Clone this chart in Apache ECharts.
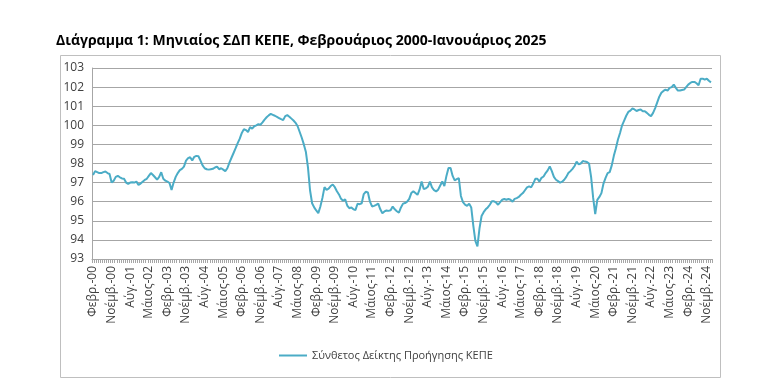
<!DOCTYPE html>
<html>
<head>
<meta charset="utf-8">
<script src="https://cdn.jsdelivr.net/npm/echarts@6/dist/echarts.min.js"></script>
<style>
html,body{margin:0;padding:0;background:#fff;}
#c{width:762px;height:384px;}
</style>
</head>
<body>
<div id="c"></div>
<script>
// Month abbreviations (Greek) and period
const monthNames = ['Ιαν.','Φεβρ.','Μάρτ.','Απρ.','Μάιος','Ιούν.','Ιούλ.','Αύγ.','Σεπτ.','Οκτ.','Νοέμβ.','Δεκ.'];
const startYear = 2000, startMonth = 1; // Feb 2000 (0-based month)
const nMonths = 300; // Feb 2000 - Jan 2025

// Series values (index 0 = Feb 2000)
const values2000_2004 = [
97.4,97.6,97.55,97.5,97.5,97.55,97.58,97.5,97.45,97.0,97.1,97.3,97.35,97.28,97.22,97.2,97.0,96.93,97.0,97.02,
97.0,97.05,96.88,96.95,97.05,97.14,97.2,97.35,97.5,97.4,97.28,97.15,97.3,97.54,97.2,97.1,97.05,96.98,96.62,97.0,
97.3,97.5,97.65,97.72,97.84,98.15,98.28,98.33,98.16,98.35,98.4,98.38,98.15,97.9,97.75,97.7,97.68,97.7,97.72,97.79
];
const values2005_2009 = [
97.84,97.7,97.75,97.68,97.6,97.75,98.05,98.3,98.55,98.8,99.07,99.3,99.6,99.8,99.75,99.65,99.9,99.83,99.95,100.0,
100.06,100.03,100.15,100.3,100.42,100.52,100.6,100.55,100.5,100.44,100.38,100.32,100.27,100.48,100.53,100.45,100.35,100.25,100.13,99.95,
99.65,99.35,99.0,98.6,97.8,96.6,95.92,95.7,95.54,95.4,95.75,96.2,96.76,96.62,96.68,96.82,96.9,96.76,96.55,96.38
];
const values2010_2014 = [
96.15,96.05,96.13,95.8,95.66,95.7,95.6,95.57,95.89,95.87,95.92,96.4,96.52,96.48,96.0,95.75,95.78,95.83,95.9,95.6,
95.4,95.49,95.54,95.52,95.55,95.75,95.6,95.5,95.43,95.7,95.9,95.93,96.0,96.15,96.45,96.54,96.45,96.36,96.63,97.06,
96.66,96.7,96.78,97.05,96.75,96.6,96.54,96.63,96.85,97.06,96.82,97.35,97.76,97.76,97.35,97.12,97.18,97.24,96.3,95.98
];
const values2015_2019 = [
95.85,95.78,95.9,95.7,94.75,93.95,93.66,94.6,95.25,95.45,95.6,95.7,95.84,96.02,96.02,95.96,95.84,95.98,96.1,96.14,
96.1,96.14,96.1,96.0,96.15,96.19,96.25,96.36,96.45,96.6,96.75,96.8,96.75,96.95,97.2,97.2,97.05,97.25,97.32,97.5,
97.64,97.85,97.6,97.3,97.15,97.08,97.0,97.05,97.15,97.3,97.5,97.6,97.72,97.87,98.1,97.96,98.0,98.13,98.1,98.08
];
const values2020_2025 = [
98.0,97.3,96.2,95.35,96.1,96.25,96.45,96.95,97.25,97.5,97.55,97.9,98.4,98.8,99.26,99.6,100.0,100.25,100.5,100.7,
100.77,100.88,100.83,100.75,100.8,100.83,100.74,100.74,100.65,100.55,100.48,100.65,100.9,101.2,101.5,101.7,101.8,101.87,101.82,101.96,
102.0,102.13,101.96,101.82,101.82,101.85,101.87,102.0,102.13,102.22,102.27,102.27,102.2,102.1,102.44,102.44,102.39,102.44,102.33,102.25
];
const yTicks = {min: 93, max: 103, interval: 1};
const seriesName = 'Σύνθετος Δείκτης Προήγησης ΚΕΠΕ';
const titleText = 'Διάγραμμα 1: Μηνιαίος ΣΔΠ ΚΕΠΕ, Φεβρουάριος 2000-Ιανουάριος 2025';

const values = [].concat(values2000_2004, values2005_2009, values2010_2014, values2015_2019, values2020_2025);
const categories = [];
for (let k = 0; k < nMonths; k++) {
  const m = (startMonth + k) % 12;
  const y = startYear + Math.floor((startMonth + k) / 12);
  categories.push(monthNames[m] + '-' + String(y % 100).padStart(2, '0'));
}

const FONT = '"Open Sans", "Noto Sans", sans-serif';
const chart = echarts.init(document.getElementById('c'), null, {renderer: 'canvas'});
chart.setOption({
  animation: false,
  backgroundColor: '#fff',
  title: {
    text: titleText, left: 51, top: 29,
    textStyle: {fontFamily: FONT, fontSize: 14, fontWeight: 'bold', color: '#000'}
  },
  graphic: [{
    type: 'rect', left: 58, top: 53, z: -1,
    shape: {width: 660, height: 322},
    style: {fill: 'none', stroke: '#bfbfbf', lineWidth: 1}
  }],
  legend: {
    data: [{name: seriesName, icon: 'rect'}],
    left: 274, top: 345, itemWidth: 28, itemHeight: 2, itemGap: 6,
    textStyle: {fontFamily: FONT, fontSize: 11, color: '#404040'}
  },
  grid: {left: 92, right: 50, top: 68, bottom: 125, containLabel: false},
  xAxis: {
    type: 'category', data: categories, boundaryGap: true,
    axisLine: {lineStyle: {color: '#a6a6a6'}},
    axisTick: {show: true, interval: 0, length: 4, lineStyle: {color: '#a6a6a6'}},
    axisLabel: {interval: 8, rotate: 90, fontFamily: FONT, fontSize: 12, color: '#404040', margin: 7}
  },
  yAxis: {
    type: 'value', min: yTicks.min, max: yTicks.max, interval: yTicks.interval,
    axisLine: {show: true, lineStyle: {color: '#a6a6a6'}},
    axisTick: {show: false},
    axisLabel: {fontFamily: FONT, fontSize: 12, color: '#404040', margin: 8},
    splitLine: {lineStyle: {color: '#a6a6a6', width: 1}}
  },
  series: [{
    name: seriesName, type: 'line', data: values,
    showSymbol: false, symbol: 'none',
    lineStyle: {color: '#4bacc6', width: 2},
    itemStyle: {color: '#4bacc6'}
  }]
});
</script>
</body>
</html>
